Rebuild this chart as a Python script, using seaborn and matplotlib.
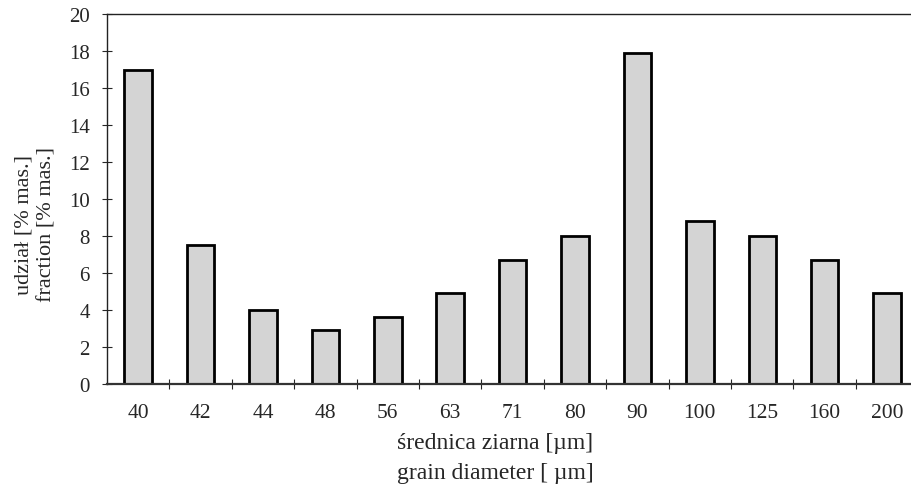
import matplotlib
matplotlib.use("Agg")
import matplotlib.pyplot as plt
import seaborn as sns
import pandas as pd
import numpy as np

categories = ["40", "42", "44", "48", "56", "63", "71", "80", "90", "100", "125", "160", "200"]
values = [17.0, 7.5, 4.0, 2.9, 3.6, 4.9, 6.7, 8.0, 17.9, 8.8, 8.0, 6.7, 4.9]
y_ticks = [0, 2, 4, 6, 8, 10, 12, 14, 16, 18, 20]

sns.set_style("white")
plt.rcParams['font.family'] = ['Liberation Serif', 'DejaVu Serif']

df = pd.DataFrame({"d": categories, "v": values})

fig = plt.figure(figsize=(9.12, 4.85), dpi=100)
ax = fig.add_axes([107/912, 1 - 385/485, 1 - 107/912, (385 - 15)/485])

sns.barplot(data=df, x="d", y="v", order=categories, color="#d4d4d4",
            edgecolor="black", linewidth=2.0, width=0.44, saturation=1, ax=ax)

ax.set_xlim(-0.5, 12.4)
ax.set_ylim(0, 20)
ax.set_yticks(y_ticks)
ax.set_yticklabels([str(t) for t in y_ticks], fontsize=15)
ax.tick_params(axis='y', direction='inout', length=7, width=0.8, pad=9, left=True)

ax.set_xticks(range(len(categories)))
ax.set_xticklabels(categories, fontsize=15.5)
ax.tick_params(axis='x', which='major', length=0, pad=14)
ax.set_xticks(np.arange(0.5, len(categories) - 0.5, 1.0), minor=True)
ax.tick_params(axis='x', which='minor', direction='inout', length=7, width=0.8, bottom=True)

for s in ["left", "top"]:
    ax.spines[s].set_visible(True)
    ax.spines[s].set_color("#222222")
    ax.spines[s].set_linewidth(1.0)
ax.spines["bottom"].set_color("#333333")
ax.spines["bottom"].set_linewidth(1.6)
ax.spines["right"].set_visible(False)

ax.set_xlabel("średnica ziarna [µm]\ngrain diameter [ µm]", fontsize=17, linespacing=1.55)
ax.xaxis.set_label_coords((495 - 107) / 805, (385 - 433) / 370)
ax.set_ylabel("udział [% mas.]\nfraction [% mas.]", fontsize=16, linespacing=1.3)
ax.yaxis.set_label_coords((57 - 107) / 805, (385 - 225) / 370)

fig.savefig("out.png", dpi=100)
